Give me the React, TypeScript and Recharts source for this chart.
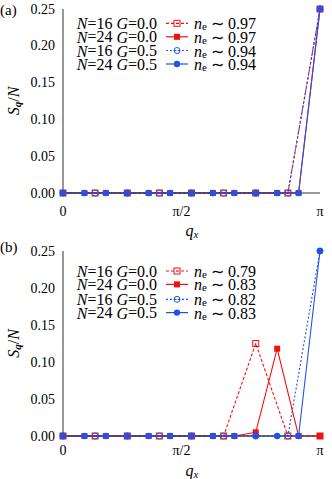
import { Legend, Line, LineChart, XAxis, YAxis } from 'recharts';

// momenta in units of pi
const Q16 = [0, 1 / 8, 2 / 8, 3 / 8, 4 / 8, 5 / 8, 6 / 8, 7 / 8, 1];
const Q24 = [0, 1 / 12, 2 / 12, 3 / 12, 4 / 12, 5 / 12, 6 / 12, 7 / 12, 8 / 12, 9 / 12, 10 / 12, 11 / 12, 1];

const X_LABEL_TICKS = [0, 0.5, 1];
const X_MINOR_TICKS = [0, 0.25, 0.5, 0.75, 1];
const Y_TICKS = [0, 0.05, 0.1, 0.15, 0.2, 0.25];

// panel (a)
const A_N16_G00 = [0, 0, 0, 0, 0, 0, 0, 0, 0.25];
const A_N24_G00 = [0, 0, 0, 0, 0, 0, 0, 0, 0, 0, 0, 0, 0.25];
const A_N16_G05 = [0, 0, 0, 0, 0, 0, 0, 0, 0.25];
const A_N24_G05 = [0, 0, 0, 0, 0, 0, 0, 0, 0, 0, 0, 0, 0.25];
const A_NE = ['0.97', '0.97', '0.94', '0.94'];

// panel (b)
const B_N16_G00 = [0, 0, 0, 0, 0, 0, 0.125, 0, 0];
const B_N24_G00 = [0, 0, 0, 0, 0, 0, 0, 0, 0, 0.005, 0.118, 0, 0];
const B_N16_G05 = [0, 0, 0, 0, 0, 0, 0, 0, 0.25];
const B_N24_G05 = [0, 0, 0, 0, 0, 0, 0, 0, 0, 0, 0, 0, 0.25];
const B_NE = ['0.79', '0.83', '0.82', '0.83'];

const SIZES = ['16', '24', '16', '24'];
const COUPLINGS = ['0.0', '0.0', '0.5', '0.5'];

const RED = '#f21111';
const BLUE = '#2152ea';
const AXIS = '#333333';
const FONT = 'Liberation Serif, serif';

type Kind = 'sqOpen' | 'sq' | 'ciOpen' | 'ci';

const STYLES: { color: string; dash?: string; kind: Kind }[] = [
  { color: RED, dash: '3 2', kind: 'sqOpen' },
  { color: RED, kind: 'sq' },
  { color: BLUE, dash: '2 2', kind: 'ciOpen' },
  { color: BLUE, kind: 'ci' },
];

const toPoints = (qs: number[], vals: number[]) =>
  qs.map((q, i) => ({ q, s: vals[i] }));

function Marker({ cx, cy, kind, color }: { cx: number; cy: number; kind: Kind; color: string }) {
  if (cx == null || cy == null) return null;
  if (kind === 'sq') return <rect x={cx - 3} y={cy - 3} width={6} height={6} fill={color} />;
  if (kind === 'ci') return <circle cx={cx} cy={cy} r={3.2} fill={color} />;
  if (kind === 'sqOpen')
    return (
      <g>
        <rect x={cx - 3} y={cy - 3} width={6} height={6} fill="none" stroke={color} strokeWidth={1} />
        <circle cx={cx} cy={cy} r={0.6} fill={color} />
      </g>
    );
  return (
    <g>
      <circle cx={cx} cy={cy} r={3} fill="none" stroke={color} strokeWidth={1} />
      <circle cx={cx} cy={cy} r={0.6} fill={color} />
    </g>
  );
}

function XTick(props: any) {
  const { x, y, payload, dy } = props;
  const v = payload.value;
  const label = v === 0 ? '0' : v === 1 ? 'π' : 'π/2';
  const shift = v === 0.5 ? -10 : 0;
  return (
    <text x={x + shift} y={y + dy} textAnchor="middle" dominantBaseline="central" fontFamily={FONT} fontSize={14} fill="#000">
      {label}
    </text>
  );
}

function YTick(props: any) {
  const { x, y, payload } = props;
  return (
    <text x={x - 8} y={y} textAnchor="end" dominantBaseline="central" fontFamily={FONT} fontSize={14} fill="#000">
      {payload.value.toFixed(2)}
    </text>
  );
}

function YTitle({ cy }: { cy: number }) {
  return (
    <text transform={`translate(13,${cy}) rotate(-90)`} textAnchor="middle" dominantBaseline="central" fontFamily={FONT} fontSize={16} fill="#000">
      <tspan fontStyle="italic">S</tspan>
      <tspan fontStyle="italic" fontWeight="bold" fontSize={11} dy={4}>q</tspan>
      <tspan dy={-4}>/</tspan>
      <tspan fontStyle="italic">N</tspan>
    </text>
  );
}

function XTitle({ cy }: { cy: number }) {
  return (
    <text x={192} y={cy} textAnchor="middle" dominantBaseline="central" fontFamily={FONT} fontSize={16} fill="#000">
      <tspan fontStyle="italic">q</tspan>
      <tspan fontStyle="italic" fontSize={11} dy={4}>x</tspan>
    </text>
  );
}

function KeyBox({ rows, ne, height }: { rows: number[]; ne: string[]; height: number }) {
  return (
    <svg width={332} height={height} style={{ position: 'absolute', left: 0, top: 0 }}>
      {rows.map((ry, i) => {
        const st = STYLES[i];
        return (
          <g key={i} fontFamily={FONT} fontSize={16} fill="#000">
            <text x={157} y={ry} textAnchor="end" dominantBaseline="central">
              <tspan fontStyle="italic">N</tspan>={SIZES[i]} <tspan fontStyle="italic">G</tspan>={COUPLINGS[i]}
            </text>
            <line x1={166} x2={188} y1={ry} y2={ry} stroke={st.color} strokeWidth={1.2} strokeDasharray={st.dash} />
            <Marker cx={177} cy={ry} kind={st.kind} color={st.color} />
            <text x={194} y={ry} dominantBaseline="central">
              <tspan fontStyle="italic">n</tspan>
              <tspan fontSize={11} dy={3}>e</tspan>
              <tspan dy={-3}> ∼ {ne[i]}</tspan>
            </text>
          </g>
        );
      })}
    </svg>
  );
}

type PanelProps = {
  tag: string;
  height: number;
  top: number;
  plotBottom: number;
  series: number[][];
  ne: string[];
  rows: number[];
  tickDy: number;
  titleY: number;
  tagY: number;
};

function Panel({ tag, height, top, plotBottom, series, ne, rows, tickDy, titleY, tagY }: PanelProps) {
  const xAxisHeight = height - plotBottom;
  return (
    <div style={{ position: 'relative', width: 332, height }}>
      <div style={{ position: 'absolute', left: 0, top: tagY - 9, fontFamily: FONT, fontSize: 15, lineHeight: '18px' }}>
        {tag}
      </div>
      <LineChart width={332} height={height} margin={{ top, right: 12, bottom: 0, left: 0 }}>
        <XAxis
          dataKey="q"
          type="number"
          domain={[0, 1]}
          ticks={X_LABEL_TICKS}
          height={xAxisHeight}
          tickLine={false}
          tickSize={0}
          tickMargin={0}
          stroke={AXIS}
          tick={<XTick dy={tickDy} />}
          label={<XTitle cy={titleY} />}
        />
        <XAxis xAxisId="top" orientation="top" type="number" domain={[0, 1]} ticks={X_MINOR_TICKS} mirror height={0} tick={false} tickSize={5} stroke={AXIS} />
        <XAxis xAxisId="bin" orientation="bottom" type="number" domain={[0, 1]} ticks={X_MINOR_TICKS} mirror height={0} tick={false} axisLine={false} tickSize={5} stroke={AXIS} />
        <YAxis
          type="number"
          domain={[0, 0.25]}
          ticks={Y_TICKS}
          width={63}
          tickLine={false}
          tickSize={0}
          tickMargin={0}
          stroke={AXIS}
          tick={<YTick />}
          label={<YTitle cy={(top + plotBottom) / 2} />}
        />
        <YAxis yAxisId="right" orientation="right" type="number" domain={[0, 0.25]} ticks={Y_TICKS} mirror width={0} tick={false} tickSize={5} stroke={AXIS} />
        <YAxis yAxisId="lin" orientation="left" type="number" domain={[0, 0.25]} ticks={Y_TICKS} mirror width={0} tick={false} axisLine={false} tickSize={5} stroke={AXIS} />
        {series.map((vals, i) => {
          const st = STYLES[i];
          const qs = vals.length === Q16.length ? Q16 : Q24;
          return (
            <Line
              key={i}
              data={toPoints(qs, vals)}
              dataKey="s"
              type="linear"
              stroke={st.color}
              strokeWidth={1.1}
              strokeDasharray={st.dash}
              isAnimationActive={false}
              dot={(p: any) => <Marker key={`d${i}-${p.index}`} cx={p.cx} cy={p.cy} kind={st.kind} color={st.color} />}
              activeDot={false}
            />
          );
        })}
        <Legend
          layout="vertical"
          align="center"
          verticalAlign="middle"
          wrapperStyle={{ left: 0, top: 0, width: 332, height, pointerEvents: 'none' }}
          content={() => <KeyBox rows={rows} ne={ne} height={height} />}
        />
      </LineChart>
    </div>
  );
}

export default function App() {
  return (
    <div style={{ position: 'absolute', left: 0, top: 0, width: 332, height: 479, background: '#fff' }}>
      <Panel
        tag="(a)"
        height={240}
        top={9}
        plotBottom={193}
        series={[A_N16_G00, A_N24_G00, A_N16_G05, A_N24_G05]}
        ne={A_NE}
        rows={[23.3, 36.8, 50.5, 64]}
        tickDy={18}
        titleY={230}
        tagY={10}
      />
      <Panel
        tag="(b)"
        height={239}
        top={11}
        plotBottom={196}
        series={[B_N16_G00, B_N24_G00, B_N16_G05, B_N24_G05]}
        ne={B_NE}
        rows={[31, 44.4, 59.3, 72.6]}
        tickDy={14}
        titleY={230}
        tagY={7}
      />
    </div>
  );
}
